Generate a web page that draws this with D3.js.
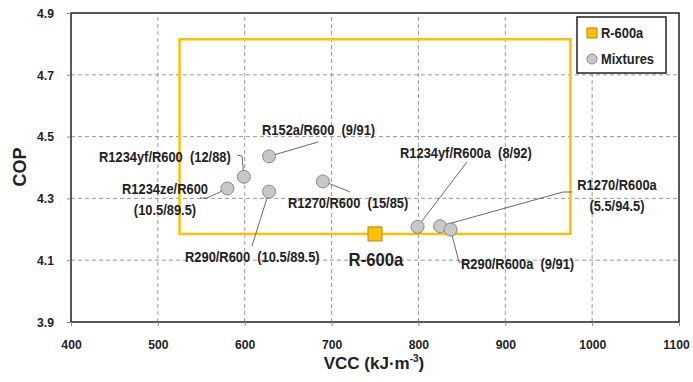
<!DOCTYPE html>
<html>
<head>
<meta charset="utf-8">
<script src="https://cdn.jsdelivr.net/npm/d3@7"></script>
<style>
  body { margin: 0; background: #fff; }
  text { font-family: "Liberation Sans", Arial, sans-serif; font-weight: bold; fill: #222; white-space: pre; }
</style>
</head>
<body>
<div id="chart"></div>
<script>
// data
var xTicks = [400, 500, 600, 700, 800, 900, 1000, 1100];
var yTicks = [3.9, 4.1, 4.3, 4.5, 4.7, 4.9];
var refName = "R-600a";
var refVcc = 750, refCop = 4.185;
var boxVcc = [525, 975];
var boxCop = [4.185, 4.815];
var mixNames = ["R1234ze/R600", "R1234yf/R600", "R152a/R600", "R290/R600", "R1270/R600",
                "R1234yf/R600a", "R1270/R600a", "R290/R600a"];
var mixVcc = [580, 599, 628, 628, 690, 799, 825, 837];
var mixCop = [4.332, 4.370, 4.436, 4.322, 4.355, 4.208, 4.210, 4.199];
var mixLabels = [["R1234ze/R600", "(10.5/89.5)"], ["R1234yf/R600  (12/88)"], ["R152a/R600  (9/91)"],
                 ["R290/R600  (10.5/89.5)"], ["R1270/R600  (15/85)"], ["R1234yf/R600a  (8/92)"],
                 ["R1270/R600a", "(5.5/94.5)"], ["R290/R600a  (9/91)"]];

var W = 693, H = 382;
var m = {left: 71, right: 14, top: 13, bottom: 60};

var svg = d3.select("#chart").append("svg").attr("width", W).attr("height", H);

var x = d3.scaleLinear().domain([400, 1100]).range([m.left, W - m.right]);
var y = d3.scaleLinear().domain([3.9, 4.9]).range([H - m.bottom, m.top]);

// squeeze text a bit, the original uses a narrow face
function narrow(sel, k) {
  sel.each(function () {
    var len = this.getComputedTextLength();
    d3.select(this).attr("textLength", len * k).attr("lengthAdjust", "spacingAndGlyphs");
  });
}

// grid
svg.append("g").selectAll("line").data(xTicks.slice(1, -1)).enter().append("line")
  .attr("x1", function (d) { return x(d); }).attr("x2", function (d) { return x(d); })
  .attr("y1", y(3.9)).attr("y2", y(4.9))
  .attr("stroke", "#999").attr("stroke-dasharray", "4,3");
svg.append("g").selectAll("line").data(yTicks.slice(1, -1)).enter().append("line")
  .attr("y1", function (d) { return y(d); }).attr("y2", function (d) { return y(d); })
  .attr("x1", x(400)).attr("x2", x(1100))
  .attr("stroke", "#999").attr("stroke-dasharray", "4,3");

// frame
svg.append("rect").attr("x", x(400)).attr("y", y(4.9))
  .attr("width", x(1100) - x(400)).attr("height", y(3.9) - y(4.9))
  .attr("fill", "none").attr("stroke", "#222").attr("stroke-width", 1.5);

// axes
var xAxis = svg.append("g").attr("transform", "translate(0," + y(3.9) + ")")
  .call(d3.axisBottom(x).tickValues(xTicks).tickSize(4).tickPadding(13).tickFormat(d3.format("d")));
var yAxis = svg.append("g").attr("transform", "translate(" + x(400) + ",0)")
  .call(d3.axisLeft(y).tickValues(yTicks).tickSize(4).tickPadding(13).tickFormat(d3.format(".1f")));
[xAxis, yAxis].forEach(function (a) {
  a.select(".domain").remove();
  a.selectAll("line").attr("stroke", "#888");
  a.selectAll("text").style("font-size", "13.5px").attr("fill", "#222").call(narrow, 0.9);
});
// last x label sits at the page edge
xAxis.selectAll(".tick text").filter(function (d) { return d === 1100; }).attr("dx", -3);

// +-30% box
svg.append("rect").attr("x", x(boxVcc[0])).attr("y", y(boxCop[1]))
  .attr("width", x(boxVcc[1]) - x(boxVcc[0])).attr("height", y(boxCop[0]) - y(boxCop[1]))
  .attr("fill", "none").attr("stroke", "#FFC000").attr("stroke-width", 2.5);

// leader lines (label end first, then to the point)
var leaders = [
  [[200, 198], [207, 198]],
  [[237, 155], [242, 156]],
  [[318, 142]],
  [[252, 246]],
  [[350, 192], [328, 183]],
  [[467, 162]],
  [[572, 192], [563, 192]],
  [[465, 262], [459, 262]]
];
svg.append("g").selectAll("path").data(mixVcc).enter().append("path")
  .attr("d", function (d, i) {
    return d3.line()(leaders[i].concat([[x(d), y(mixCop[i])]]));
  })
  .attr("fill", "none").attr("stroke", "#444").attr("stroke-width", 0.8);

// mixtures
svg.append("g").selectAll("circle").data(mixVcc).enter().append("circle")
  .attr("cx", function (d) { return x(d); })
  .attr("cy", function (d, i) { return y(mixCop[i]); })
  .attr("r", 6.5)
  .attr("fill", "#c8c8c8").attr("stroke", "#888").attr("stroke-width", 1);

// reference point
svg.append("rect").attr("x", x(refVcc) - 7).attr("y", y(refCop) - 7)
  .attr("width", 14).attr("height", 14)
  .attr("fill", "#FFC000").attr("stroke", "#B8860B").attr("stroke-width", 1);
svg.append("text").attr("x", x(refVcc) + 1).attr("y", y(refCop) + 32)
  .attr("text-anchor", "middle").style("font-size", "19px").text(refName).call(narrow, 0.88);

// labels
var labelPos = [[165, 194, "middle"], [99, 162, "start"], [262, 135, "start"], [185, 262, "start"],
                [288, 208, "start"], [400, 158, "start"], [617, 190, "middle"], [461, 269, "start"]];
mixLabels.forEach(function (lines, i) {
  lines.forEach(function (s, j) {
    svg.append("text").attr("x", labelPos[i][0]).attr("y", labelPos[i][1] + j * 21)
      .attr("text-anchor", labelPos[i][2]).style("font-size", "14px").text(s)
      .call(narrow, 0.92);
  });
});

// axis titles
svg.append("text").attr("transform", "translate(26,167) rotate(-90)")
  .attr("text-anchor", "middle").style("font-size", "18px").text("COP");
var xt = svg.append("text").attr("x", 374).attr("y", 369)
  .attr("text-anchor", "middle").style("font-size", "17px");
xt.append("tspan").text("VCC (kJ·m");
xt.append("tspan").attr("dy", -7).style("font-size", "10px").text("-3");
xt.append("tspan").attr("dy", 7).text(")");

// legend
var lg = svg.append("g").attr("transform", "translate(577,17)");
lg.append("rect").attr("width", 89).attr("height", 56)
  .attr("fill", "#fff").attr("stroke", "#222").attr("stroke-width", 1.5);
lg.append("rect").attr("x", 10).attr("y", 11).attr("width", 10).attr("height", 10)
  .attr("fill", "#FFC000").attr("stroke", "#B8860B");
lg.append("text").attr("x", 24).attr("y", 21).style("font-size", "14px").text(refName).call(narrow, 0.92);
lg.append("circle").attr("cx", 15).attr("cy", 42).attr("r", 5)
  .attr("fill", "#c8c8c8").attr("stroke", "#888");
lg.append("text").attr("x", 24).attr("y", 47).style("font-size", "14px").text("Mixtures").call(narrow, 0.92);
</script>
</body>
</html>
